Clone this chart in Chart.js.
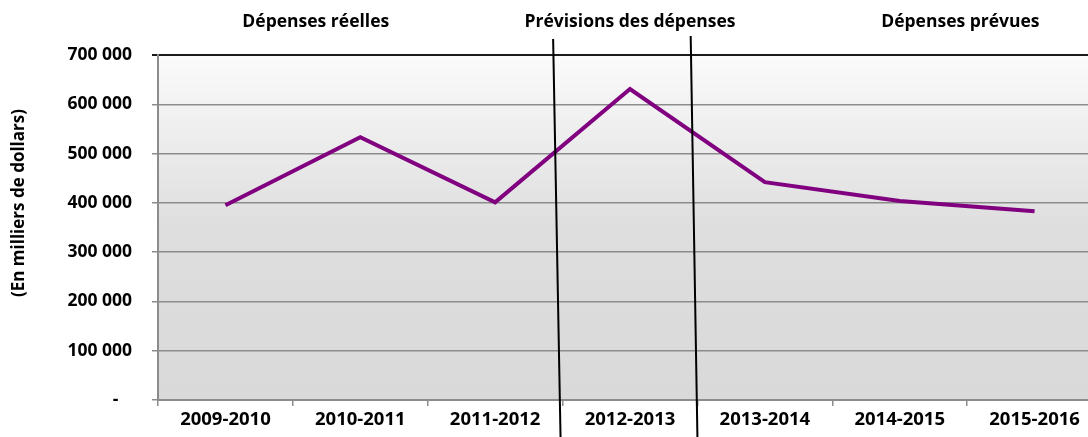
<!DOCTYPE html>
<html><head><meta charset="utf-8">
<script src="https://cdn.jsdelivr.net/npm/chart.js@4/dist/chart.umd.min.js"></script>
<style>
html,body{margin:0;padding:0;background:#fff;overflow:hidden;width:1088px;height:437px;}
#wrap{position:relative;width:1102px;height:437px;}
</style></head>
<body><div id="wrap"><canvas id="c" width="1102" height="437"></canvas></div>
<script>
const categories = ['2009-2010','2010-2011','2011-2012','2012-2013','2013-2014','2014-2015','2015-2016'];
const spending = [395000, 533000, 401000, 631000, 442000, 404000, 383000];
const yTicks = [0,100000,200000,300000,400000,500000,600000,700000];
const sectionLabels = ['Dépenses réelles','Prévisions des dépenses','Dépenses prévues'];
const sectionLabelPos = [0.67, 3.0, 5.45];
const separators = [[2.43, 2.485],[3.45, 3.50]];
const yTitle = '(En milliers de dollars)';

const FONT = '"Open Sans", sans-serif';
function fmt(v){ if(v===0) return '-   '; return String(v).replace(/\B(?=(\d{3})+(?!\d))/g,' '); }

const decor = {
  id:'decor',
  beforeDraw(chart){
    const {ctx, chartArea:a} = chart;
    const g = ctx.createLinearGradient(0,a.top,0,a.bottom);
    g.addColorStop(0,'#fbfbfb');
    g.addColorStop(0.5,'#dedede');
    g.addColorStop(1,'#d9d9d9');
    ctx.save(); ctx.fillStyle=g; ctx.fillRect(a.left,a.top,a.right-a.left,a.bottom-a.top); ctx.restore();
  },
  afterDraw(chart){
    const {ctx} = chart; const xs = chart.scales.x;
    ctx.save();
    ctx.font = 'bold 17.5px '+FONT; ctx.fillStyle='#000'; ctx.textAlign='center'; ctx.textBaseline='middle';
    sectionLabels.forEach((t,i)=>ctx.fillText(t, xs.getPixelForValue(sectionLabelPos[i]), 22));
    ctx.strokeStyle='#000'; ctx.lineWidth=2;
    separators.forEach(([t,b],i)=>{
      const y0 = i===0?39:36;
      const x0 = xs.getPixelForValue(t), x1 = xs.getPixelForValue(b);
      ctx.beginPath(); ctx.moveTo(x0,y0); ctx.lineTo(x1,437); ctx.stroke();
    });
    ctx.translate(19,203); ctx.rotate(-Math.PI/2);
    ctx.font='bold 17px '+FONT; ctx.fillText(yTitle,0,0);
    ctx.restore();
  }
};

new Chart(document.getElementById('c'),{
  type:'line',
  data:{labels:categories,datasets:[{data:spending,borderColor:'#800080',borderWidth:4,pointRadius:0,tension:0,fill:false}]},
  options:{
    responsive:false,animation:false,
    layout:{padding:{top:55,left:0,right:0,bottom:0}},
    plugins:{legend:{display:false},tooltip:{enabled:false}},
    scales:{
      x:{offset:true,
        grid:{offset:true,drawOnChartArea:false,drawTicks:true,tickLength:6,color:'#8c8c8c',lineWidth:1.5},
        border:{color:'#8c8c8c',width:2},
        ticks:{color:'#000',font:{family:FONT,weight:'bold',size:18.5},padding:3,maxRotation:0,autoSkip:false},
        afterFit(s){s.height=37;}
      },
      y:{min:0,max:700000,
        afterBuildTicks(s){s.ticks=yTicks.map(v=>({value:v}));},
        grid:{color:(c)=>c.tick&&c.tick.value===700000?'#1a1a1a':'#8c8c8c',lineWidth:(c)=>c.tick&&c.tick.value===700000?2:1.5,tickLength:6},
        border:{color:'#8c8c8c',width:2},
        ticks:{color:'#000',font:{family:FONT,weight:'bold',size:17.5},padding:20,callback:(v)=>fmt(v)},
        afterFit(s){s.width=158;}
      }
    }
  },
  plugins:[decor]
});
</script></body></html>
